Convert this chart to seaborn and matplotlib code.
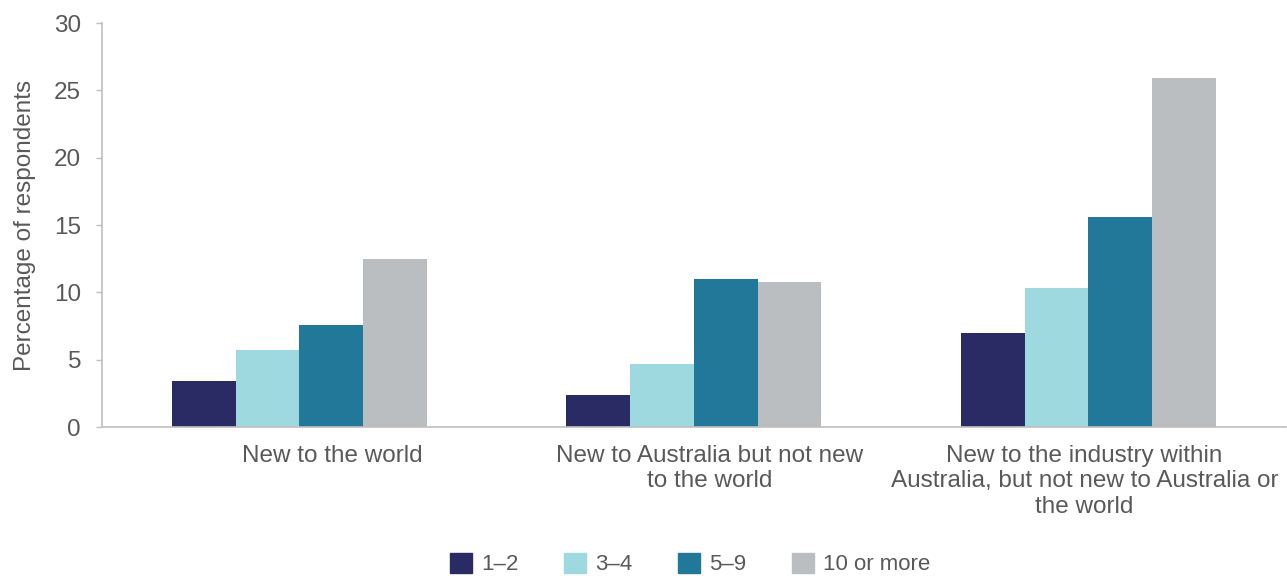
import matplotlib
matplotlib.use("Agg")
import matplotlib.pyplot as plt
import matplotlib.transforms as mtransforms
import seaborn as sns
import pandas as pd

categories = [
    "New to the world",
    "New to Australia but not new\nto the world",
    "New to the industry within\nAustralia, but not new to Australia or\nthe world",
]
groups = ["1\u20132", "3\u20134", "5\u20139", "10 or more"]
vals_1_2 = [3.4, 2.4, 7.0]
vals_3_4 = [5.7, 4.7, 10.3]
vals_5_9 = [7.6, 11.0, 15.6]
vals_10 = [12.5, 10.8, 25.9]
colors = ["#2a2a64", "#9fd9e0", "#227899", "#bbbec1"]
yticks = [0, 5, 10, 15, 20, 25, 30]

rows = []
for g, vals in zip(groups, [vals_1_2, vals_3_4, vals_5_9, vals_10]):
    for c, v in zip(categories, vals):
        rows.append({"cat": c, "grp": g, "val": v})
df = pd.DataFrame(rows)

sns.set_style("white")
plt.rcParams["font.family"] = ["Liberation Sans", "DejaVu Sans"]

FS = 17.5
fig = plt.figure(figsize=(12.87, 5.78), dpi=100)
ax = fig.add_axes([0.0793, 0.2612, 0.9197, 0.6988])
sns.barplot(data=df, x="cat", y="val", hue="grp", order=categories,
            hue_order=groups, palette=colors, width=0.646, gap=0,
            linewidth=0, saturation=1, ax=ax)

ax.set_ylim(0, 30)
ax.set_yticks(yticks)
ax.set_xlim(-0.5, 2.5)
ax.set_xlabel("")
ax.set_ylabel("Percentage of respondents", fontsize=FS, color="#595959", labelpad=13)
ax.tick_params(axis="y", labelsize=FS, labelcolor="#595959", length=4.3,
               color="#bfbfbf", width=1, pad=10.8, left=True)
ax.tick_params(axis="x", labelsize=FS, labelcolor="#595959", length=0, pad=13)
offsets_px = [33, 16, -4]
for lab, off in zip(ax.get_xticklabels(), offsets_px):
    lab.set_linespacing(1.2)
    lab.set_transform(lab.get_transform() +
                      mtransforms.ScaledTranslation(off / 100, 0, fig.dpi_scale_trans))
for s in ["top", "right"]:
    ax.spines[s].set_visible(False)
for s in ["left", "bottom"]:
    ax.spines[s].set_color("#bfbfbf")
    ax.spines[s].set_linewidth(1.2)

ax.legend_.remove()
handles = [plt.Rectangle((0, 0), 1, 1, color=c) for c in colors]
leg = fig.legend(handles, groups, loc="center", bbox_to_anchor=(0.536, 0.024),
                 ncol=4, frameon=False, fontsize=16, handlelength=1.0,
                 handleheight=1.0, handletextpad=0.4, columnspacing=2.05)
for t in leg.get_texts():
    t.set_color("#595959")

fig.savefig("out.png", dpi=100)
